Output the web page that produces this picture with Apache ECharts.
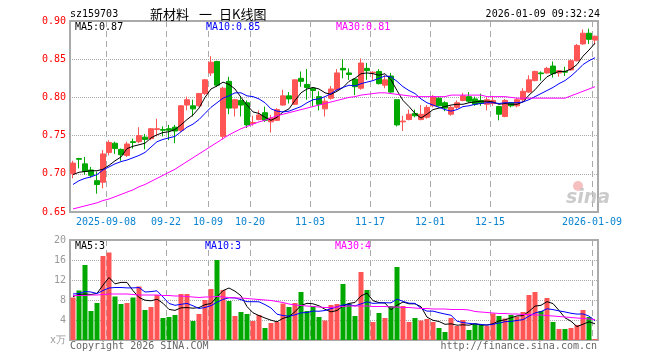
<!DOCTYPE html>
<html><head><meta charset="utf-8">
<script src="https://cdn.jsdelivr.net/npm/echarts@6/dist/echarts.min.js"></script>
<style>html,body{margin:0;padding:0;background:#fff}#c{width:660px;height:360px}</style>
</head><body><div id="c"></div>
<script>
// ---- data ----
const dates = [
'2025-08-29','2025-09-01','2025-09-02','2025-09-03','2025-09-04','2025-09-05',
'2025-09-08','2025-09-09','2025-09-10','2025-09-11','2025-09-12',
'2025-09-15','2025-09-16','2025-09-17','2025-09-18','2025-09-19',
'2025-09-22','2025-09-23','2025-09-24','2025-09-25','2025-09-26',
'2025-09-29','2025-09-30','2025-10-09','2025-10-10',
'2025-10-13','2025-10-14','2025-10-15','2025-10-16','2025-10-17',
'2025-10-20','2025-10-21','2025-10-22','2025-10-23','2025-10-24',
'2025-10-27','2025-10-28','2025-10-29','2025-10-30','2025-10-31',
'2025-11-03','2025-11-04','2025-11-05','2025-11-06','2025-11-07',
'2025-11-10','2025-11-11','2025-11-12','2025-11-13','2025-11-14',
'2025-11-17','2025-11-18','2025-11-19','2025-11-20','2025-11-21',
'2025-11-24','2025-11-25','2025-11-26','2025-11-27','2025-11-28',
'2025-12-01','2025-12-02','2025-12-03','2025-12-04','2025-12-05',
'2025-12-08','2025-12-09','2025-12-10','2025-12-11','2025-12-12',
'2025-12-15','2025-12-16','2025-12-17','2025-12-18','2025-12-19',
'2025-12-22','2025-12-23','2025-12-24','2025-12-25','2025-12-26',
'2025-12-29','2025-12-30','2025-12-31',
'2026-01-05','2026-01-06','2026-01-07','2026-01-08','2026-01-09'];
const tickDates = ['2025-09-08','2025-09-22','2025-10-09','2025-10-20','2025-11-03','2025-11-17','2025-12-01','2025-12-15','2026-01-09'];
const tickTexts = ['2025-09-08','09-22','10-09','10-20','11-03','11-17','12-01','12-15','2026-01-09'];
const priceTicks = [0.65, 0.90, 0.05];
const volTicks = [0, 20, 4];

const opens = [0.700,0.720,0.713,0.705,0.691,0.689,0.728,0.740,0.732,0.724,
0.742,0.742,0.748,0.746,0.758,0.758,0.759,0.761,0.757,0.790,
0.789,0.789,0.805,0.832,0.847,0.749,0.821,0.786,0.796,0.793,
0.766,0.771,0.780,0.768,0.770,0.790,0.802,0.791,0.825,0.817,
0.812,0.801,0.785,0.799,0.810,0.838,0.832,0.824,0.812,0.838,
0.832,0.834,0.816,0.828,0.797,0.768,0.771,0.779,0.771,0.774,
0.789,0.799,0.793,0.778,0.787,0.796,0.801,0.798,0.796,0.791,
0.792,0.788,0.775,0.793,0.789,0.797,0.807,0.822,0.832,0.832,
0.841,0.832,0.834,0.836,0.848,0.870,0.884,0.875];
const closes = [0.714,0.719,0.703,0.698,0.686,0.726,0.741,0.733,0.725,0.739,
0.741,0.750,0.745,0.759,0.759,0.757,0.757,0.756,0.789,0.797,
0.785,0.805,0.823,0.846,0.816,0.812,0.786,0.797,0.790,0.764,
0.767,0.777,0.770,0.773,0.784,0.802,0.798,0.823,0.821,0.813,
0.809,0.791,0.795,0.811,0.832,0.836,0.830,0.814,0.845,0.835,
0.833,0.818,0.823,0.807,0.764,0.769,0.778,0.776,0.778,0.787,
0.801,0.789,0.786,0.787,0.793,0.802,0.795,0.791,0.792,0.797,
0.796,0.778,0.796,0.789,0.797,0.808,0.823,0.834,0.831,0.838,
0.831,0.835,0.833,0.848,0.868,0.884,0.876,0.880];
const highs = [0.717,0.721,0.722,0.709,0.703,0.731,0.744,0.742,0.733,0.742,
0.746,0.761,0.752,0.760,0.772,0.762,0.764,0.764,0.790,0.801,
0.797,0.806,0.824,0.854,0.848,0.814,0.827,0.798,0.801,0.796,
0.776,0.783,0.788,0.777,0.786,0.810,0.807,0.823,0.834,0.837,
0.813,0.808,0.799,0.815,0.837,0.850,0.838,0.825,0.851,0.845,
0.834,0.837,0.829,0.832,0.797,0.776,0.784,0.784,0.790,0.790,
0.803,0.801,0.795,0.789,0.796,0.806,0.807,0.801,0.805,0.800,
0.802,0.789,0.798,0.794,0.799,0.812,0.829,0.835,0.834,0.840,
0.847,0.836,0.840,0.850,0.870,0.889,0.890,0.881];
const lows = [0.694,0.707,0.699,0.695,0.674,0.681,0.724,0.726,0.717,0.722,
0.733,0.740,0.732,0.744,0.749,0.749,0.744,0.740,0.755,0.783,
0.775,0.788,0.803,0.828,0.814,0.745,0.778,0.775,0.775,0.760,
0.763,0.770,0.768,0.754,0.769,0.789,0.792,0.790,0.814,0.797,
0.788,0.783,0.775,0.797,0.809,0.825,0.823,0.803,0.810,0.823,
0.823,0.817,0.812,0.806,0.762,0.756,0.770,0.774,0.770,0.772,
0.787,0.788,0.782,0.776,0.785,0.795,0.793,0.789,0.789,0.783,
0.789,0.770,0.774,0.787,0.787,0.794,0.806,0.821,0.822,0.831,
0.826,0.827,0.828,0.835,0.847,0.869,0.870,0.869];

const ma5 = [0.699,0.702,0.703,0.704,0.704,0.706,0.711,0.717,0.722,0.733,
0.736,0.738,0.740,0.747,0.751,0.754,0.755,0.758,0.764,0.771,
0.777,0.786,0.800,0.811,0.815,0.820,0.817,0.811,0.800,0.790,
0.781,0.779,0.774,0.770,0.774,0.781,0.785,0.796,0.806,0.811,
0.813,0.811,0.806,0.804,0.808,0.813,0.821,0.825,0.831,0.832,
0.831,0.829,0.831,0.823,0.809,0.796,0.788,0.779,0.773,0.778,
0.784,0.786,0.788,0.790,0.791,0.791,0.793,0.794,0.795,0.795,
0.794,0.791,0.792,0.791,0.791,0.794,0.803,0.810,0.819,0.827,
0.831,0.834,0.834,0.837,0.843,0.854,0.862,0.871];
const ma10 = [0.686,0.691,0.694,0.696,0.699,0.705,0.709,0.713,0.716,0.718,
0.721,0.724,0.728,0.735,0.742,0.745,0.747,0.749,0.755,0.761,
0.765,0.771,0.779,0.787,0.793,0.799,0.802,0.806,0.806,0.802,
0.801,0.798,0.793,0.785,0.782,0.781,0.782,0.785,0.788,0.793,
0.797,0.798,0.801,0.805,0.810,0.813,0.816,0.815,0.818,0.820,
0.822,0.825,0.828,0.827,0.821,0.814,0.809,0.805,0.798,0.793,
0.790,0.787,0.784,0.782,0.784,0.788,0.789,0.791,0.792,0.793,
0.793,0.792,0.793,0.793,0.793,0.794,0.797,0.801,0.805,0.809,
0.813,0.818,0.822,0.828,0.835,0.843,0.848,0.852];
const ma30 = [0.654,0.656,0.658,0.660,0.662,0.665,0.667,0.670,0.673,0.676,
0.679,0.683,0.686,0.690,0.694,0.698,0.702,0.706,0.711,0.716,
0.721,0.726,0.731,0.736,0.741,0.746,0.751,0.755,0.759,0.762,
0.765,0.768,0.770,0.773,0.776,0.778,0.780,0.782,0.784,0.786,
0.788,0.790,0.792,0.794,0.796,0.798,0.800,0.801,0.803,0.804,
0.805,0.806,0.806,0.805,0.804,0.803,0.802,0.801,0.801,0.801,
0.801,0.801,0.801,0.803,0.803,0.803,0.803,0.803,0.803,0.801,
0.801,0.801,0.801,0.800,0.799,0.799,0.799,0.799,0.799,0.799,
0.799,0.799,0.799,0.802,0.805,0.808,0.811,0.814];

const volumes = [8.5,9.9,15.0,5.8,7.4,16.8,17.5,8.7,7.2,7.4,
8.5,10.7,6.0,6.6,9.0,4.4,4.6,5.0,9.2,9.2,
3.8,5.2,8.0,10.2,16.0,10.0,7.8,4.8,5.6,5.2,
3.8,5.0,2.4,3.4,3.6,7.3,6.6,7.4,9.6,5.8,
6.8,4.6,3.9,7.0,7.2,11.2,7.3,4.8,13.6,10.0,
3.6,5.4,4.4,6.8,14.6,6.8,3.6,4.4,3.9,4.2,
3.6,2.4,1.6,4.4,2.8,4.0,2.0,3.2,3.0,2.8,
5.3,4.8,4.3,5.0,4.7,5.6,9.0,9.6,5.8,8.4,
3.6,2.2,2.2,2.4,3.0,6.0,4.6,0.2];
const vma5 = [8.7,9.1,9.2,9.1,9.32,10.98,12.5,11.24,11.52,11.52,
9.86,8.5,7.96,7.84,8.16,7.34,6.12,5.92,6.44,6.48,
6.36,6.48,7.08,7.28,8.64,9.88,10.4,9.76,8.84,6.68,
5.44,4.88,4.4,3.96,3.64,4.34,4.66,5.66,6.9,7.34,
7.24,6.84,6.14,5.62,5.9,6.78,7.32,7.5,8.82,9.38,
7.86,7.48,7.4,6.04,6.96,7.6,7.24,7.24,6.66,4.58,
3.94,3.7,3.14,3.24,2.96,3.04,2.96,3.28,3.0,3.0,
3.26,3.82,4.04,4.44,4.82,4.88,5.72,6.78,6.94,7.68,
7.28,5.92,4.44,3.76,2.68,3.16,3.64,3.24];
const vma10 = [9.2,9.3,9.7,9.6,9.3,9.9,10.4,10.5,10.5,10.42,
10.42,10.5,9.6,9.68,9.84,8.6,7.31,6.94,7.14,7.32,
6.85,6.3,6.5,6.86,7.56,8.12,8.44,8.42,8.06,7.66,
7.66,7.64,7.08,6.4,5.16,4.89,4.77,5.03,5.43,5.49,
5.79,5.75,5.9,6.26,6.62,7.01,7.08,6.82,7.22,7.64,
7.32,7.4,7.45,7.43,8.17,7.73,7.36,7.32,6.35,5.77,
5.77,5.47,5.19,4.95,3.77,3.49,3.33,3.21,3.12,2.98,
3.15,3.39,3.66,3.72,3.91,4.07,4.77,5.41,5.69,6.25,
6.08,5.82,5.61,5.35,5.18,5.22,4.78,3.84];
const vma30 = [8.9,8.9,8.9,9.0,9.0,9.1,9.2,9.2,9.2,9.2,
9.1,9.0,9.0,9.0,9.0,8.9,8.9,8.8,8.8,8.7,
8.6,8.5,8.6,8.6,8.7,8.6,8.5,8.4,8.4,8.3,
8.2,8.1,8.0,7.9,7.7,7.5,7.2,7.0,6.9,6.8,
6.7,6.6,6.5,6.5,6.6,6.7,6.8,6.8,6.8,6.8,
6.7,6.7,6.7,6.6,6.6,6.5,6.5,6.4,6.3,6.3,
6.2,6.2,6.2,6.1,6.1,6.1,6.0,5.7,5.6,5.5,
5.4,5.3,5.3,5.2,5.2,5.1,5.1,5.0,5.0,4.9,
4.8,4.7,4.6,4.5,4.4,4.3,4.2,4.1];

// ---- chart ----
const UP = '#ff5555', DOWN = '#00a800';
const MONO = '"DejaVu Sans Mono", monospace';
const CJK = '13px "Noto Sans CJK SC"';
const tickIdx = tickDates.map(d => dates.indexOf(d));
const isTick = i => tickIdx.indexOf(i) >= 0;
const candle = dates.map((d, i) => [opens[i], closes[i], lows[i], highs[i]]);
const volData = volumes.map((v, i) => ({value: v, itemStyle: {color: closes[i] >= opens[i] ? UP : DOWN}}));
const last = ma5.length - 1;

const chart = echarts.init(document.getElementById('c'), null, {renderer: 'canvas'});
const dashed = {show: true, interval: (i) => isTick(i), lineStyle: {color: '#aaa', type: [6, 4], width: 1}};
const lineS = (name, data, color, xi) => ({
  name, type: 'line', data, xAxisIndex: xi, yAxisIndex: xi, symbol: 'none', silent: true,
  lineStyle: {color, width: 1}, itemStyle: {color}, z: 5, animation: false
});
const txt = (text, x, y, fill, font, align) => ({
  type: 'text', silent: true, z: 100,
  style: {text, x, y, fill, font: font || ('10px ' + MONO), textAlign: align || 'left', textVerticalAlign: 'middle'}
});

chart.setOption({
  animation: false,
  backgroundColor: '#fff',
  grid: [
    {left: 70, top: 21, width: 528, height: 191, show: true, borderColor: '#aaa', borderWidth: 2, backgroundColor: 'transparent'},
    {left: 70, top: 240, width: 528, height: 100, show: true, borderColor: '#aaa', borderWidth: 2, backgroundColor: 'transparent'}
  ],
  xAxis: [
    {type: 'category', gridIndex: 0, data: dates, boundaryGap: true,
     axisLine: {show: false}, axisTick: {show: false},
     axisLabel: {interval: (i) => isTick(i), margin: 5, color: '#0a84d0', fontFamily: MONO, fontSize: 10,
       padding: [0, 6, 0, 0],
       formatter: (v) => { const k = tickDates.indexOf(v); return k >= 0 ? tickTexts[k] : ''; }},
     splitLine: dashed},
    {type: 'category', gridIndex: 1, data: dates, boundaryGap: true,
     axisLine: {show: false}, axisTick: {show: false}, axisLabel: {show: false},
     splitLine: dashed}
  ],
  yAxis: [
    {type: 'value', gridIndex: 0, min: priceTicks[0], max: priceTicks[1], interval: priceTicks[2],
     axisLine: {show: false}, axisTick: {show: false},
     axisLabel: {margin: 4, color: '#ff0000', fontFamily: MONO, fontSize: 10, formatter: (v) => v.toFixed(2)},
     splitLine: {show: true, lineStyle: {color: '#aaa', type: 'dotted', width: 1}}},
    {type: 'value', gridIndex: 1, min: volTicks[0], max: volTicks[1], interval: volTicks[2],
     axisLine: {show: false}, axisTick: {show: false},
     axisLabel: {margin: 4, color: '#999', fontFamily: MONO, fontSize: 10, formatter: (v) => v === 0 ? 'x万' : String(v)},
     splitLine: {show: true, lineStyle: {color: '#aaa', type: 'dotted', width: 1}}}
  ],
  series: [
    {type: 'candlestick', xAxisIndex: 0, yAxisIndex: 0, data: candle, barWidth: 5, silent: true, z: 3,
     itemStyle: {color: UP, color0: DOWN, borderColor: UP, borderColor0: DOWN, borderWidth: 1}},
    lineS('MA5', ma5, '#000000', 0),
    lineS('MA10', ma10, '#0000ff', 0),
    lineS('MA30', ma30, '#ff00ff', 0),
    {type: 'bar', xAxisIndex: 1, yAxisIndex: 1, data: volData, barWidth: 5, silent: true, z: 3},
    lineS('VMA5', vma5, '#000000', 1),
    lineS('VMA10', vma10, '#0000ff', 1),
    lineS('VMA30', vma30, '#ff00ff', 1)
  ],
  graphic: [
    txt('sz159703', 70, 14, '#000'),
    txt('新材料', 150, 14, '#000', CJK),
    txt('一', 199, 14, '#000', CJK),
    txt('日K线图', 219, 14, '#000', CJK),
    txt('2026-01-09 09:32:24', 600, 14, '#000', null, 'right'),
    txt('MA5:' + ma5[last].toFixed(2), 75, 27, '#000'),
    txt('MA10:' + ma10[last].toFixed(2), 206, 27, '#0000ff'),
    txt('MA30:' + ma30[last].toFixed(2), 336, 27, '#ff00ff'),
    txt('MA5:' + Math.floor(vma5[last]), 75, 246, '#000'),
    txt('MA10:' + Math.floor(vma10[last]), 205, 246, '#0000ff'),
    txt('MA30:' + Math.floor(vma30[last]), 335, 246, '#ff00ff'),
    txt('Copyright 2026 SINA.COM', 70, 346, '#666'),
    txt('http://finance.sina.com.cn', 597, 346, '#666', null, 'right'),
    {type: 'circle', silent: true, z: 100, shape: {cx: 578, cy: 186, r: 5}, style: {fill: 'rgba(240,150,150,0.6)'}},
    txt('sina', 566, 198, 'rgba(190,190,190,0.8)', 'italic bold 19px "DejaVu Sans"')
  ]
});
</script></body></html>
